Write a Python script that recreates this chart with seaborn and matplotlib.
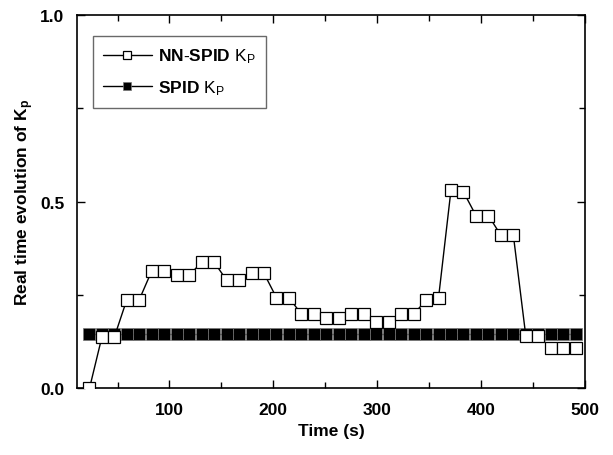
#!/usr/bin/env python3
"""Real time evolution of Kp: NN-SPID vs SPID."""

import matplotlib
matplotlib.use("Agg")
import matplotlib.pyplot as plt
import pandas as pd
import seaborn as sns
from matplotlib.ticker import MultipleLocator

# sample times (s)
time_s = [23, 35, 47, 59, 71, 83, 95, 107, 119, 131,
          143, 155, 167, 179, 191, 203, 215, 227, 239, 251,
          263, 275, 287, 299, 311, 323, 335, 347, 359, 371,
          383, 395, 407, 419, 431, 443, 455, 467, 479, 491]

nn_spid_kp = [0.0, 0.138, 0.138, 0.238, 0.238, 0.315, 0.315, 0.303, 0.303, 0.338,
              0.338, 0.290, 0.290, 0.308, 0.308, 0.243, 0.243, 0.199, 0.199, 0.189,
              0.189, 0.198, 0.198, 0.178, 0.178, 0.199, 0.199, 0.236, 0.243, 0.532,
              0.526, 0.463, 0.463, 0.410, 0.410, 0.140, 0.140, 0.109, 0.109, 0.109]

spid_kp = [0.147] * len(time_s)

series_labels = [r"$\mathbf{NN}$-$\mathbf{SPID}$ K$_\mathrm{P}$",
                 r"$\mathbf{SPID}$ K$_\mathrm{P}$"]

FS = 12.5

sns.set_theme(style="ticks")
plt.rcParams["font.family"] = ["Liberation Sans", "DejaVu Sans"]
plt.rcParams["mathtext.fontset"] = "custom"
plt.rcParams["mathtext.rm"] = "Liberation Sans"
plt.rcParams["mathtext.bf"] = "Liberation Sans:bold"
plt.rcParams["mathtext.it"] = "Liberation Sans:italic"
for key in ["text.color", "axes.labelcolor", "xtick.color", "ytick.color", "axes.edgecolor"]:
    plt.rcParams[key] = "black"

df = pd.DataFrame({"time": time_s, "nn": nn_spid_kp, "spid": spid_kp})

fig = plt.figure(figsize=(6.13, 4.56), dpi=100)
ax = fig.add_axes([0.1256, 0.146, 0.8288, 0.819])

sns.lineplot(data=df, x="time", y="nn", ax=ax, color="black", lw=1.0,
             marker="s", markersize=8.0, markerfacecolor="white",
             markeredgecolor="black", markeredgewidth=0.9,
             label=series_labels[0], zorder=3)
sns.lineplot(data=df, x="time", y="spid", ax=ax, color="black", lw=1.0,
             marker="s", markersize=8.4, markerfacecolor="black",
             markeredgecolor="#777777", markeredgewidth=0.5,
             label=series_labels[1], zorder=2)

ax.set_xlim(11, 500)
ax.set_ylim(0.0, 1.0)
ax.xaxis.set_major_locator(MultipleLocator(100))
ax.xaxis.set_minor_locator(MultipleLocator(50))
ax.yaxis.set_major_locator(MultipleLocator(0.5))
ax.yaxis.set_minor_locator(MultipleLocator(0.25))
ax.tick_params(which="both", direction="in", top=True, right=True,
               width=1.0, labelsize=FS)
ax.tick_params(which="major", length=6)
ax.tick_params(which="minor", length=4)
ax.tick_params(axis="x", which="major", pad=10)
ax.tick_params(axis="y", which="major", pad=9)
for lbl in ax.get_xticklabels() + ax.get_yticklabels():
    lbl.set_fontweight("bold")
for sp in ax.spines.values():
    sp.set_linewidth(1.2)

ax.set_xlabel("Time (s)", fontsize=FS, fontweight="bold", labelpad=4)
ax.set_ylabel(r"Real time evolution of K$_\mathbf{p}$", fontsize=FS,
              fontweight="bold", labelpad=3)

leg = ax.legend(loc="upper left", bbox_to_anchor=(0.031, 0.943), fontsize=FS,
                frameon=True, fancybox=False, handlelength=2.8, markerscale=0.75,
                borderpad=0.6, labelspacing=0.75, handletextpad=0.35,
                borderaxespad=0)
leg.get_frame().set_edgecolor("#444444")
leg.get_frame().set_linewidth(1.0)

fig.savefig("out.png", dpi=100)
